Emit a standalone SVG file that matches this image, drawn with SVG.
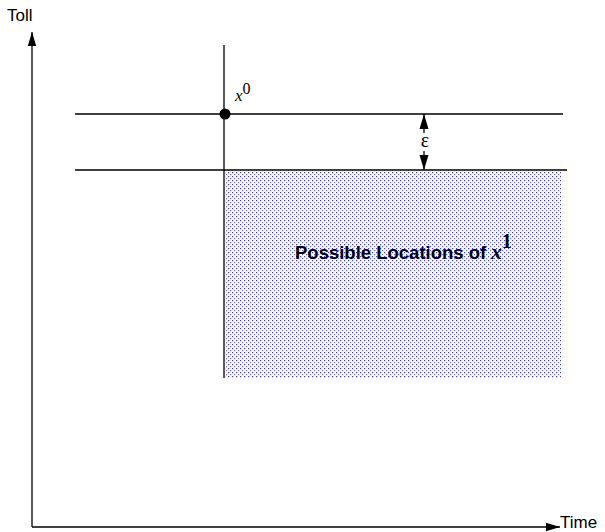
<svg xmlns="http://www.w3.org/2000/svg" width="605" height="532" viewBox="0 0 605 532">
<style>
.ln{stroke:#000;stroke-width:1.3;fill:none}
.lbl{font-family:"Liberation Sans",Arial,sans-serif;font-size:17px;fill:#000}
.math{font-family:"Liberation Serif","Times New Roman",serif;font-style:italic;fill:#000}
</style>
<defs>
<marker id="ah2" viewBox="0 0 14 10" refX="14" refY="5" markerWidth="14" markerHeight="10" markerUnits="userSpaceOnUse" orient="auto">
<path d="M0,0.8 L14,5 L0,9.2 z" fill="#000"/>
</marker>
<marker id="ah3" viewBox="0 0 15 10" refX="15" refY="5" markerWidth="15" markerHeight="10" markerUnits="userSpaceOnUse" orient="auto">
<path d="M0,0.5 L15,5 L0,9.5 z" fill="#000"/>
</marker>
<pattern id="dots" width="4" height="4" patternUnits="userSpaceOnUse">
<rect x="0" y="0" width="1.2" height="1.2" fill="#3a3aff"/>
<rect x="2" y="2" width="1.2" height="1.2" fill="#6a6aff"/>
</pattern>
</defs>
<g id="region">
<rect x="225" y="171" width="336" height="207" fill="url(#dots)"/>
</g>
<g id="connectors">
<line class="ln" x1="32" y1="527" x2="32" y2="32" marker-end="url(#ah2)"/>
<line class="ln" x1="32" y1="527" x2="560" y2="527" marker-end="url(#ah2)"/>
<line class="ln" x1="224" y1="45" x2="224" y2="378"/>
<line class="ln" x1="75" y1="114" x2="563" y2="114"/>
<line class="ln" x1="75" y1="170" x2="567" y2="170"/>
<line class="ln" x1="424" y1="133" x2="424" y2="114" marker-end="url(#ah3)"/>
<line class="ln" x1="424" y1="151" x2="424" y2="170" marker-end="url(#ah3)"/>
</g>
<g id="axis-labels">
<text class="lbl" x="7" y="21">Toll</text>
<text class="lbl" x="560" y="528">Time</text>
</g>
<g id="x0">
<circle cx="225" cy="114" r="5.5" fill="#000"/>
<text class="math" x="235" y="101" font-size="17">x<tspan font-style="normal" font-size="16" dy="-7">0</tspan></text>
</g>
<g id="epsilon">
<text x="425" y="147" text-anchor="middle" font-family="Liberation Serif,serif" font-size="20">ε</text>
</g>
<g id="possible">
<text x="295" y="259" font-family="Liberation Sans,Arial,sans-serif" font-size="18.5" font-weight="bold">Possible Locations of <tspan class="math" font-size="21" font-weight="bold">x</tspan><tspan font-family="Liberation Serif,serif" font-size="20" font-weight="bold" dy="-11">1</tspan></text>
</g>
</svg>
